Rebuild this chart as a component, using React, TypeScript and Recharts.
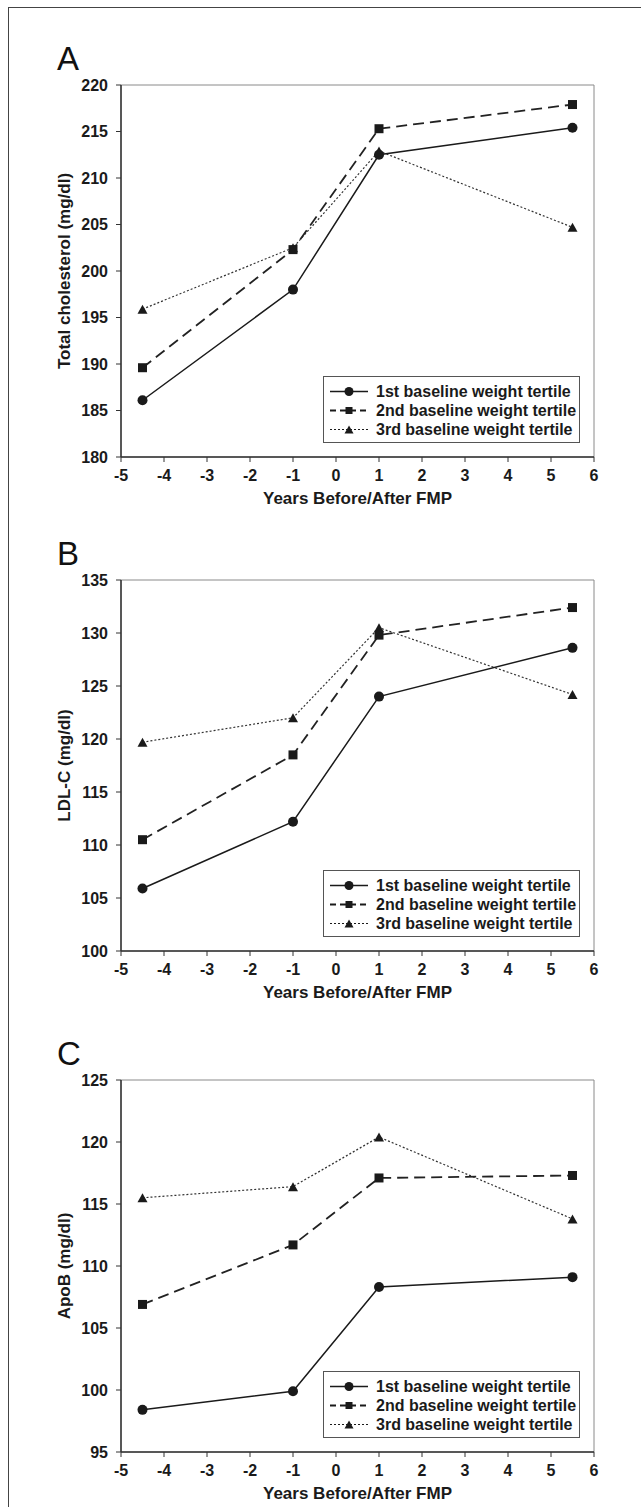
import { LineChart, Line, XAxis, YAxis, ReferenceArea } from "recharts";

// years before/after final menstrual period
const years = [-4.5, -1, 1, 5.5];
const xTicks = [-5, -4, -3, -2, -1, 0, 1, 2, 3, 4, 5, 6];

const seriesNames = [
  "1st baseline weight tertile",
  "2nd baseline weight tertile",
  "3rd baseline weight tertile",
];

// A: total cholesterol
const tcFirst = [186.1, 198.0, 212.5, 215.4];
const tcSecond = [189.6, 202.3, 215.3, 217.9];
const tcThird = [195.9, 202.5, 212.9, 204.7];
const tcTicks = [180, 185, 190, 195, 200, 205, 210, 215, 220];

// B: LDL-C
const ldlFirst = [105.9, 112.2, 124.0, 128.6];
const ldlSecond = [110.5, 118.5, 129.8, 132.4];
const ldlThird = [119.7, 122.0, 130.5, 124.2];
const ldlTicks = [100, 105, 110, 115, 120, 125, 130, 135];

// C: ApoB
const apoFirst = [98.4, 99.9, 108.3, 109.1];
const apoSecond = [106.9, 111.7, 117.1, 117.3];
const apoThird = [115.5, 116.4, 120.4, 113.8];
const apoTicks = [95, 100, 105, 110, 115, 120, 125];

const FONT = '"Liberation Sans", Arial, sans-serif';
const INK = "#1a1a1a";

const CircleDot = (props: any) => {
  const { cx, cy, r = 5 } = props;
  if (cx == null || cy == null) return null;
  return <circle cx={cx} cy={cy} r={r} fill={INK} stroke="none" />;
};

const SquareDot = (props: any) => {
  const { cx, cy, s = 9 } = props;
  if (cx == null || cy == null) return null;
  return <rect x={cx - s / 2} y={cy - s / 2} width={s} height={s} fill={INK} />;
};

const TriangleDot = (props: any) => {
  const { cx, cy, s = 10 } = props;
  if (cx == null || cy == null) return null;
  const h = s * 0.9;
  return (
    <polygon
      points={`${cx - s / 2},${cy + h / 2} ${cx + s / 2},${cy + h / 2} ${cx},${cy - h / 2}`}
      fill={INK}
    />
  );
};

const lineStyles = [
  { dash: undefined, width: 1.5, Dot: CircleDot, legendDash: undefined },
  { dash: "11 6", width: 1.8, Dot: SquareDot, legendDash: "6 4" },
  { dash: "2 2", width: 1.2, Dot: TriangleDot, legendDash: "2 2" },
];

function LegendBox({ top }: { top: number }) {
  return (
    <div
      style={{
        position: "absolute",
        left: 323,
        top,
        width: 257,
        height: 67,
        border: "1px solid #555",
        background: "#fff",
        boxSizing: "border-box",
      }}
    >
      {seriesNames.map((name, i) => {
        const st = lineStyles[i];
        const Dot = st.Dot;
        return (
          <div
            key={name}
            style={{
              position: "absolute",
              left: 5,
              top: 5 + i * 19,
              height: 19,
              display: "flex",
              alignItems: "center",
            }}
          >
            <svg width={40} height={19}>
              <line
                x1={1}
                x2={39}
                y1={9.5}
                y2={9.5}
                stroke={INK}
                strokeWidth={st.width}
                strokeDasharray={st.legendDash}
              />
              <Dot cx={20} cy={9.5} r={4.5} s={i === 1 ? 7 : 9} />
            </svg>
            <span
              style={{
                marginLeft: 7,
                fontFamily: FONT,
                fontWeight: "bold",
                fontSize: 16,
                lineHeight: "19px",
                color: INK,
                whiteSpace: "nowrap",
              }}
            >
              {name}
            </span>
          </div>
        );
      })}
    </div>
  );
}

interface PanelProps {
  top: number;
  plotHeight: number;
  letter: string;
  yLabel: string;
  yTicks: number[];
  first: number[];
  second: number[];
  third: number[];
}

function Panel({ top, plotHeight, letter, yLabel, yTicks, first, second, third }: PanelProps) {
  const rows = years.map((x, i) => ({ x, t1: first[i], t2: second[i], t3: third[i] }));
  const yMin = yTicks[0];
  const yMax = yTicks[yTicks.length - 1];
  const marginTop = 85;
  const axisH = 47;
  const height = marginTop + plotHeight + axisH + 4;
  const tickStyle = { fontSize: 16, fontWeight: "bold", fill: INK, fontFamily: FONT };

  return (
    <div style={{ position: "absolute", left: 0, top, width: 641, height }}>
      <div
        style={{
          position: "absolute",
          left: 57,
          top: marginTop - 15 - 28,
          fontFamily: FONT,
          fontSize: 33,
          lineHeight: "33px",
          color: "#111",
        }}
      >
        {letter}
      </div>
      <LineChart
        width={641}
        height={height}
        data={rows}
        margin={{ top: marginTop, right: 47, left: 40, bottom: 4 }}
        style={{ fontFamily: FONT }}
      >
        <ReferenceArea
          x1={-5}
          x2={6}
          y1={yMin}
          y2={yMax}
          fill="none"
          stroke="#8a8a8a"
          strokeWidth={1}
          ifOverflow="visible"
        />
        <XAxis
          type="number"
          dataKey="x"
          domain={[-5, 6]}
          ticks={xTicks}
          interval={0}
          height={axisH}
          tickSize={5}
          tickMargin={8}
          tick={tickStyle}
          axisLine={{ stroke: "#333", strokeWidth: 1.5 }}
          tickLine={{ stroke: "#333" }}
          label={{
            value: "Years Before/After FMP",
            position: "insideBottom",
            offset: 0,
            style: { fontSize: 17, fontWeight: "bold", fill: INK, fontFamily: FONT },
          }}
        />
        <YAxis
          type="number"
          domain={[yMin, yMax]}
          ticks={yTicks}
          interval={0}
          width={81}
          tickSize={5}
          tickMargin={8}
          tick={tickStyle}
          axisLine={{ stroke: "#333", strokeWidth: 1.5 }}
          tickLine={{ stroke: "#333" }}
          label={{
            value: yLabel,
            angle: -90,
            position: "insideLeft",
            offset: 24,
            style: { textAnchor: "middle", fontSize: 17, fontWeight: "bold", fill: INK, fontFamily: FONT },
          }}
        />
        <Line
          dataKey="t3"
          stroke="#333"
          strokeWidth={lineStyles[2].width}
          strokeDasharray={lineStyles[2].dash}
          dot={(p: any) => <TriangleDot key={`t3-${p.index}`} cx={p.cx} cy={p.cy} s={10} />}
          isAnimationActive={false}
        />
        <Line
          dataKey="t2"
          stroke="#222"
          strokeWidth={lineStyles[1].width}
          strokeDasharray={lineStyles[1].dash}
          dot={(p: any) => <SquareDot key={`t2-${p.index}`} cx={p.cx} cy={p.cy} s={9} />}
          isAnimationActive={false}
        />
        <Line
          dataKey="t1"
          stroke={INK}
          strokeWidth={lineStyles[0].width}
          dot={(p: any) => <CircleDot key={`t1-${p.index}`} cx={p.cx} cy={p.cy} r={5} />}
          isAnimationActive={false}
        />
      </LineChart>
      <LegendBox top={marginTop + plotHeight - 14 - 67} />
    </div>
  );
}

export default function App() {
  return (
    <div
      style={{
        position: "fixed",
        left: 0,
        top: 0,
        width: 641,
        height: 1507,
        overflow: "hidden",
        background: "#fff",
      }}
    >
      <div
        style={{
          position: "absolute",
          left: 8,
          top: 7,
          width: 700,
          height: 1600,
          borderLeft: "1.5px solid #444",
          borderTop: "1.5px solid #444",
        }}
      />
      <Panel
        top={0}
        plotHeight={372}
        letter="A"
        yLabel="Total cholesterol (mg/dl)"
        yTicks={tcTicks}
        first={tcFirst}
        second={tcSecond}
        third={tcThird}
      />
      <Panel
        top={495}
        plotHeight={371}
        letter="B"
        yLabel="LDL-C (mg/dl)"
        yTicks={ldlTicks}
        first={ldlFirst}
        second={ldlSecond}
        third={ldlThird}
      />
      <Panel
        top={995}
        plotHeight={372}
        letter="C"
        yLabel="ApoB (mg/dl)"
        yTicks={apoTicks}
        first={apoFirst}
        second={apoSecond}
        third={apoThird}
      />
    </div>
  );
}
